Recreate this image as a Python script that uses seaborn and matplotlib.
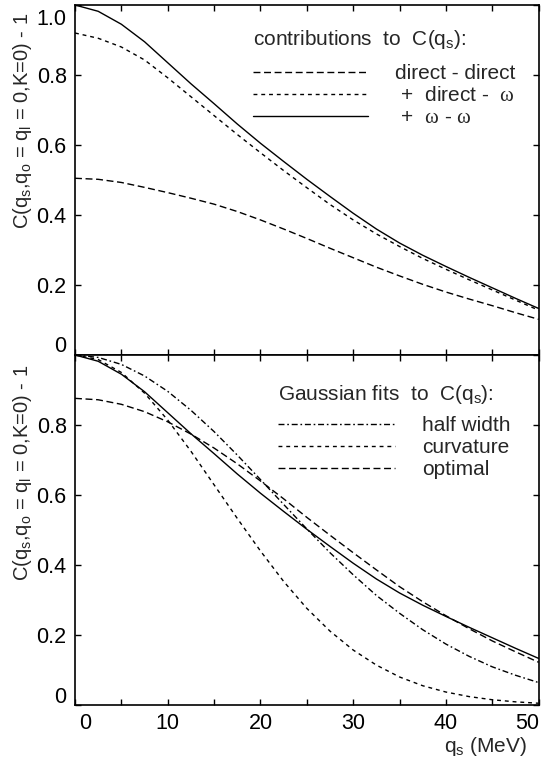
import numpy as np
import pandas as pd
import matplotlib
matplotlib.use("Agg")
import matplotlib.pyplot as plt
import matplotlib.transforms as mtrans
import seaborn as sns

# q_s in MeV
qs = [0, 2.5, 5, 7.5, 10, 12.5, 15, 17.5, 20, 22.5, 25, 27.5, 30,
      32.5, 35, 37.5, 40, 42.5, 45, 47.5, 50]

# top panel: contributions
direct_direct = [0.505, 0.502, 0.493, 0.479, 0.464, 0.448, 0.431, 0.410, 0.386,
                 0.360, 0.333, 0.305, 0.278, 0.251, 0.226, 0.202, 0.180, 0.160,
                 0.141, 0.121, 0.102]
plus_direct_omega = [0.920, 0.905, 0.880, 0.843, 0.792, 0.738, 0.684, 0.630, 0.578,
                     0.527, 0.478, 0.430, 0.386, 0.346, 0.310, 0.276, 0.245, 0.215,
                     0.186, 0.157, 0.128]
full_corr = [1.000, 0.982, 0.945, 0.895, 0.835, 0.775, 0.718, 0.660, 0.605,
             0.553, 0.502, 0.453, 0.405, 0.360, 0.320, 0.285, 0.253, 0.222,
             0.192, 0.162, 0.133]

# bottom panel: gaussian fits
half_width = [1.000, 0.993, 0.973, 0.940, 0.896, 0.842, 0.781, 0.714, 0.644,
              0.573, 0.503, 0.435, 0.372, 0.313, 0.262, 0.215, 0.174, 0.139,
              0.109, 0.085, 0.064]
curvature = [1.000, 0.987, 0.950, 0.891, 0.814, 0.725, 0.629, 0.533, 0.440,
             0.353, 0.276, 0.211, 0.157, 0.114, 0.080, 0.055, 0.037, 0.024,
             0.015, 0.009, 0.005]
optimal = [0.876, 0.872, 0.859, 0.838, 0.809, 0.774, 0.734, 0.689, 0.640,
           0.589, 0.536, 0.485, 0.435, 0.386, 0.338, 0.295, 0.255, 0.218,
           0.183, 0.152, 0.122]

sns.set_style("ticks")
plt.rcParams["font.family"] = ["Liberation Sans", "DejaVu Sans"]
plt.rcParams["mathtext.fontset"] = "custom"
plt.rcParams["mathtext.rm"] = "Liberation Sans"
plt.rcParams["mathtext.it"] = "Liberation Sans"
plt.rcParams["mathtext.tt"] = "Liberation Serif"

fs = 15
tfs = 15.5
lw = 1.0
s_dash = (0, (5, 2.6))
s_dot = (0, (2.8, 2.8))
s_dashdot = (0, (4.3, 2.0, 1.2, 2.0))

fig = plt.figure(figsize=(5.45, 7.57), dpi=100)
ax1 = fig.add_axes([0.1376, 0.531, 0.8508, 0.4624])
ax2 = fig.add_axes([0.1376, 0.0687, 0.8508, 0.4624])

df = pd.DataFrame({"qs": qs, "dd": direct_direct, "dw": plus_direct_omega,
                   "full": full_corr, "hw": half_width, "curv": curvature,
                   "opt": optimal})

w = r"$\mathtt{\omega}$"
sns.lineplot(data=df, x="qs", y="dd", ax=ax1, color="k", lw=lw, linestyle=s_dash,
             label="direct - direct")
sns.lineplot(data=df, x="qs", y="dw", ax=ax1, color="k", lw=lw, linestyle=s_dot,
             label=" +  direct -  " + w)
sns.lineplot(data=df, x="qs", y="full", ax=ax1, color="k", lw=lw, linestyle="-",
             label=" +  " + w + " - " + w)

sns.lineplot(data=df, x="qs", y="full", ax=ax2, color="k", lw=lw, linestyle="-")
sns.lineplot(data=df, x="qs", y="hw", ax=ax2, color="k", lw=lw, linestyle=s_dashdot,
             label="half width")
sns.lineplot(data=df, x="qs", y="curv", ax=ax2, color="k", lw=lw, linestyle=s_dot,
             label="curvature")
sns.lineplot(data=df, x="qs", y="opt", ax=ax2, color="k", lw=lw, linestyle=s_dash,
             label="optimal")

ylab = r"C(q$_\mathrm{s}$,q$_\mathrm{o}$ = q$_\mathrm{l}$ = 0,K=0) - 1"

for ax in (ax1, ax2):
    ax.set_xlim(0, 50)
    ax.set_ylim(0, 1.0)
    for sp in ax.spines.values():
        sp.set_visible(True)
        sp.set_linewidth(1.2)
        sp.set_color("k")
    ax.tick_params(direction="in", length=4, width=1.0, top=True, right=True,
                   labelsize=tfs, colors="k", pad=6)
    ax.set_xticks(np.arange(0, 51, 5))
    ax.set_yticks([0, 0.2, 0.4, 0.6, 0.8, 1.0])
    ax.set_ylabel(ylab, fontsize=14.5)
    ax.set_xlabel("")

ax1.set_xticklabels([])
ax1.set_yticklabels(["0", "0.2", "0.4", "0.6", "0.8", "1.0"])
ax2.set_yticklabels(["0", "0.2", "0.4", "0.6", "0.8", ""])
ax2.set_xticklabels(["0", "", "10", "", "20", "", "30", "", "40", "", "50"])

ax1.yaxis.set_label_coords(-0.089, 0.67)
ax2.yaxis.set_label_coords(-0.089, 0.663)

ax2.set_xlabel(r"q$_\mathrm{s}$ (MeV)", fontsize=fs)
ax2.xaxis.set_label_coords(0.975, -0.085)
ax2.xaxis.label.set_ha("right")

# shift the edge tick labels inward
def shift(lbl, dx, dy):
    lbl.set_transform(lbl.get_transform() +
                      mtrans.ScaledTranslation(dx / 72, dy / 72, fig.dpi_scale_trans))

xl = ax2.get_xticklabels()
shift(xl[0], 7, 0)
shift(xl[-1], -8, 0)
yl1 = ax1.get_yticklabels()
shift(yl1[-1], 0, -9)
shift(yl1[0], 0, 8)
yl2 = ax2.get_yticklabels()
shift(yl2[0], 0, 7)

ax1.text(0.384, 0.9, r"contributions  to  C(q$_\mathrm{s}$):", transform=ax1.transAxes,
         fontsize=fs, va="center", ha="left")
ax1.legend(loc="upper left", bbox_to_anchor=(0.384, 0.831), frameon=False,
           fontsize=fs, handlelength=5.5, handletextpad=1.3, labelspacing=0.15,
           borderpad=0, borderaxespad=0)

ax2.text(0.438, 0.886, r"Gaussian fits  to  C(q$_\mathrm{s}$):", transform=ax2.transAxes,
         fontsize=fs, va="center", ha="left")
ax2.legend(loc="upper left", bbox_to_anchor=(0.438, 0.825), frameon=False,
           fontsize=fs, handlelength=5.6, handletextpad=1.3, labelspacing=0.15,
           borderpad=0, borderaxespad=0)

fig.savefig("out.png", dpi=100)
